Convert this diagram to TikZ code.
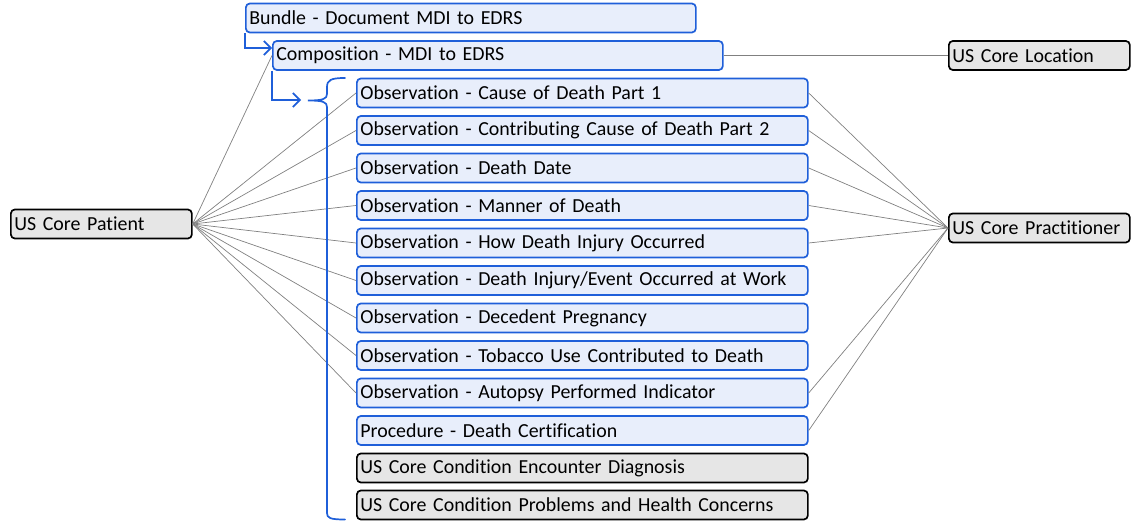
\documentclass[tikz,border=0pt]{standalone}
\usepackage{fontspec}
\setmainfont[Ligatures=NoCommon]{Carlito}
\usetikzlibrary{arrows.meta}
\definecolor{bluefill}{HTML}{E8EEFB}
\definecolor{blueline}{HTML}{1F5FD9}
\definecolor{grayfill}{HTML}{E6E6E6}
\definecolor{connline}{HTML}{808080}
\tikzset{
  basebox/.style={rounded corners=4pt, line width=1.7pt, anchor=west, align=left,
    inner xsep=3.5pt, inner ysep=0pt, minimum height=29pt,
    font=\fontsize{19.9}{22}\selectfont},
  bluebox/.style={basebox, draw=blueline, fill=bluefill},
  graybox/.style={basebox, draw=black, fill=grayfill},
  obsbox/.style={text width=444pt},
  sidebox/.style={text width=174pt},
  conn/.style={draw=connline, line width=0.7pt},
  elbow/.style={draw=blueline, line width=1.7pt, -{Straight Barb[length=7pt,width=14pt,line width=1.7pt]}},
}
\begin{document}
\begin{tikzpicture}[x=1pt,y=-1pt]
\useasboundingbox (0,0) rectangle (1136,532);
% top nodes
\node[bluebox, text width=443pt] (bundle) at (245,18) {Bundle - Document MDI to EDRS};
\node[bluebox, text width=443pt] (comp) at (272,55.5) {Composition - MDI to EDRS};
\node[graybox, sidebox] (loc) at (948,55.5) {US Core Location};
\node[graybox, sidebox] (pat) at (10,224) {US Core Patient};
\node[graybox, sidebox] (prac) at (948,228) {US Core Practitioner};
% list
\node[bluebox, obsbox] (o1) at (356,93) {Observation - Cause of Death Part 1};
\node[bluebox, obsbox] (o2) at (356,130.5) {Observation - Contributing Cause of Death Part 2};
\node[bluebox, obsbox] (o3) at (356,168) {Observation - Death Date};
\node[bluebox, obsbox] (o4) at (356,205.5) {Observation - Manner of Death};
\node[bluebox, obsbox] (o5) at (356,243) {Observation - How Death Injury Occurred};
\node[bluebox, obsbox] (o6) at (356,280.5) {Observation - Death Injury/Event Occurred at Work};
\node[bluebox, obsbox] (o7) at (356,318) {Observation - Decedent Pregnancy};
\node[bluebox, obsbox] (o8) at (356,355.5) {Observation - Tobacco Use Contributed to Death};
\node[bluebox, obsbox] (o9) at (356,393) {Observation - Autopsy Performed Indicator};
\node[bluebox, obsbox] (o10) at (356,430.5) {Procedure - Death Certification};
\node[graybox, obsbox] (o11) at (356,468) {US Core Condition Encounter Diagnosis};
\node[graybox, obsbox] (o12) at (356,505) {US Core Condition Problems and Health Concerns};
% connectors from patient
\draw[conn] (pat.east) -- (comp.west);
\foreach \i in {1,...,9} { \draw[conn] (pat.east) -- (o\i.west); }
% connectors to practitioner
\foreach \i in {1,2,3,4,5,9,10} { \draw[conn] (o\i.east) -- (prac.west); }
% composition to location
\draw[conn] (comp.east) -- (loc.west);
% blue elbows
\draw[elbow] (bundle.south west) |- (comp.west |- 0,48);
\coordinate (ctip) at (301,100);
\draw[elbow] (comp.south west) |- (ctip);
% brace
\draw[draw=blueline, line width=1.7pt, line cap=round]
  (345,78) .. controls (331,78) and (327,80) .. (327,87) -- (327,94)
  .. controls (327,99) and (323,100.5) .. (308,100.5)
  .. controls (323,100.5) and (327,102) .. (327,107) -- (327,513)
  .. controls (327,518) and (330,519.5) .. (345,519.5);
\end{tikzpicture}
\end{document}
